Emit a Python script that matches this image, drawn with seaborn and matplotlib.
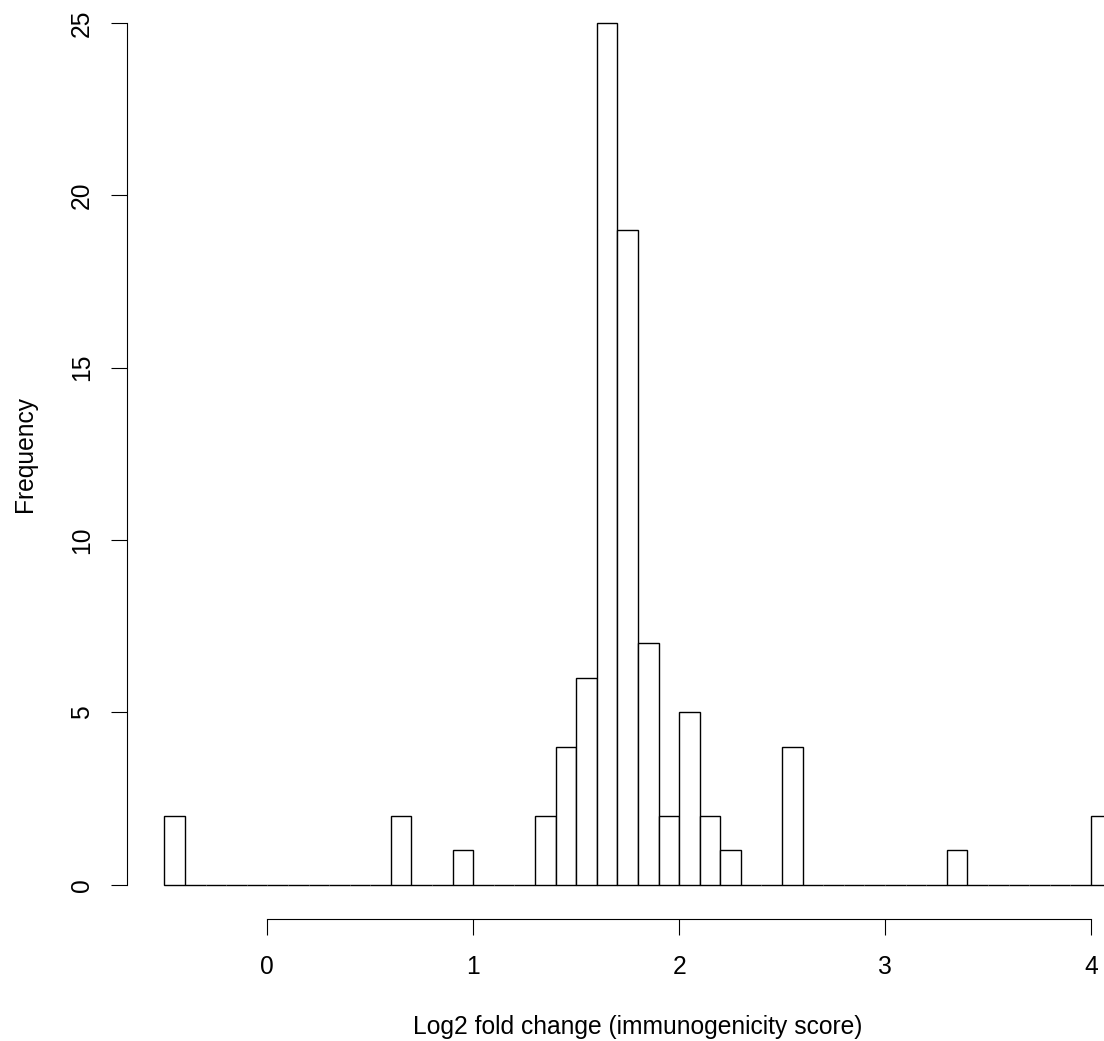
import numpy as np
import pandas as pd
import matplotlib
matplotlib.use("Agg")
import matplotlib.pyplot as plt
import seaborn as sns

# Histogram data (bin midpoints and counts)
bin_mids = [-0.45, 0.65, 0.95, 1.35, 1.45, 1.55, 1.65, 1.75, 1.85, 1.95,
            2.05, 2.15, 2.25, 2.55, 3.35, 4.05]
counts = [2, 2, 1, 2, 4, 6, 25, 19, 7, 2, 5, 2, 1, 4, 1, 2]
bin_start, bin_end, bin_width = -0.5, 4.1, 0.1
x_ticks = [0, 1, 2, 3, 4]
y_ticks = [0, 5, 10, 15, 20, 25]
x_label = "Log2 fold change (immunogenicity score)"
y_label = "Frequency"

# one observation per counted item, placed at its bin midpoint
values = np.repeat(np.array(bin_mids, dtype=float), counts)

sns.set_style("white")
plt.rcParams['font.family'] = ['Liberation Sans', 'DejaVu Sans']
plt.rcParams['text.color'] = 'black'
plt.rcParams['axes.labelcolor'] = 'black'

W, H = 1104, 1041
fig = plt.figure(figsize=(W / 100, H / 100), dpi=100)
# axes placed in pixel coords (plot region extends beyond figure like the cropped original)
left_px, right_px = 126.5, 1149.4
bottom_px, top_px = 919.2, -11.5
ax = fig.add_axes([left_px / W, (H - bottom_px) / H,
                   (right_px - left_px) / W, (bottom_px - top_px) / H])

sns.histplot(x=values, binwidth=bin_width, binrange=(bin_start, bin_end),
             stat="count", color="white", edgecolor="black",
             linewidth=1.0, alpha=1.0, ax=ax)

rng = bin_end - bin_start
ax.set_xlim(bin_start - 0.04 * rng, bin_end + 0.04 * rng)
ax.set_ylim(-0.04 * 25, 25 * 1.04)

for s in ["top", "right"]:
    ax.spines[s].set_visible(False)
for s in ["left", "bottom"]:
    ax.spines[s].set_color("black")
    ax.spines[s].set_linewidth(0.8)
ax.spines["left"].set_bounds(0, 25)
ax.spines["bottom"].set_bounds(0, 4)

fs = 17.7
ax.set_xticks(x_ticks)
ax.set_yticks(y_ticks)
ax.set_xticklabels([str(v) for v in x_ticks])
ax.set_yticklabels([str(v) for v in y_ticks])
ax.tick_params(axis="both", direction="out", length=11.5, width=0.8,
               colors="black", labelsize=fs, left=True, bottom=True)
ax.tick_params(axis="x", pad=14)
ax.tick_params(axis="y", pad=12)
for lab in ax.get_yticklabels():
    lab.set_rotation(90)
    lab.set_va("center")
    lab.set_ha("right")

ax.set_xlabel(x_label, fontsize=fs, labelpad=26, color="black")
ax.set_ylabel(y_label, fontsize=fs, labelpad=24, color="black")

fig.savefig("out.png", dpi=100)
